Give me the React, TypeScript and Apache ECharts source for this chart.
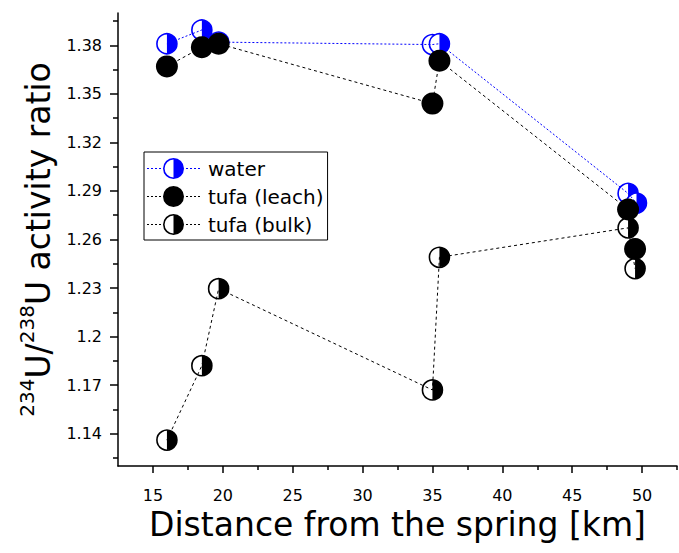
import React, { useEffect, useRef } from "react";
import * as echarts from "echarts";

// ---- data ----
const xTickValues = [15, 20, 25, 30, 35, 40, 45, 50];
const xMinorValues = [17.5, 22.5, 27.5, 32.5, 37.5, 42.5, 47.5, 52.5];
const yTickValues = [1.14, 1.17, 1.2, 1.23, 1.26, 1.29, 1.32, 1.35, 1.38];
const yMinorValues = [1.125, 1.155, 1.185, 1.215, 1.245, 1.275, 1.305, 1.335, 1.365, 1.395];

const waterDist = [16.0, 18.5, 19.7, 35.0, 35.5, 49.0, 49.6];
const waterRatio = [1.381, 1.3895, 1.382, 1.3805, 1.381, 1.2885, 1.2825];

const leachDist = [16.0, 18.5, 19.7, 35.0, 35.5, 49.0, 49.5];
const leachRatio = [1.367, 1.3788, 1.381, 1.344, 1.3705, 1.2786, 1.2541];

const bulkDist = [16.0, 18.5, 19.7, 35.0, 35.5, 49.0, 49.5];
const bulkRatio = [1.136, 1.182, 1.2296, 1.167, 1.249, 1.2672, 1.242];

const seriesNames = ["water", "tufa (leach)", "tufa (bulk)"];

const FONT = "DejaVu Sans";
const BLUE = "#0000ff";
const BLACK = "#000000";

const pairs = (xs: number[], ys: number[]) => xs.map((x, i) => [x, ys[i]]);

// legend icon paths (53 x 21 box)
const dashes =
  "M0,10h2v1h-2zM4,10h2v1h-2zM8,10h2v1h-2zM12,10h2v1h-2z" +
  "M39,10h2v1h-2zM43,10h2v1h-2zM47,10h2v1h-2zM51,10h2v1h-2z";
const outer = "M16,10.5A10.5,10.5 0 1,1 37,10.5A10.5,10.5 0 1,1 16,10.5Z";
const inner = "M17.6,10.5A8.9,8.9 0 1,0 35.4,10.5A8.9,8.9 0 1,0 17.6,10.5Z";
const rightHalf = "M26.5,1.6A8.9,8.9 0 0,1 26.5,19.4Z";
const halfIcon = "path://" + dashes + outer + inner + rightHalf;
const fullIcon = "path://" + dashes + outer;

const halfSeries = (name: string, data: number[][], color: string) => ({
  type: "custom",
  name,
  data,
  encode: { x: 0, y: 1 },
  renderItem: (_params: any, api: any) => {
    const p = api.coord([api.value(0), api.value(1)]);
    return {
      type: "group",
      children: [
        {
          type: "circle",
          shape: { cx: p[0], cy: p[1], r: 10 },
          style: { fill: "#ffffff", stroke: color, lineWidth: 1.6 },
        },
        {
          type: "sector",
          shape: {
            cx: p[0],
            cy: p[1],
            r0: 0,
            r: 10,
            startAngle: -Math.PI / 2,
            endAngle: Math.PI / 2,
            clockwise: true,
          },
          style: { fill: color },
        },
      ],
    };
  },
});

export default function App() {
  const ref = useRef<HTMLDivElement>(null);

  useEffect(() => {
    if (!ref.current) return;
    const chart = echarts.init(ref.current, undefined, { renderer: "svg" });

    const axisFont = { fontFamily: FONT, fontSize: 16, color: BLACK };

    chart.setOption({
      animation: false,
      backgroundColor: "#ffffff",
      grid: { left: 118, right: 2, top: 13, bottom: 87, containLabel: false },
      legend: {
        orient: "vertical",
        left: 144,
        top: 152,
        borderColor: BLACK,
        borderWidth: 1,
        padding: [6, 4, 5, 3],
        itemGap: 7,
        itemWidth: 53,
        itemHeight: 21,
        selectedMode: false,
        textStyle: { fontFamily: FONT, fontSize: 20, color: BLACK, padding: [0, 0, 0, 3] },
        data: [
          { name: seriesNames[0], icon: halfIcon, itemStyle: { color: BLUE, borderWidth: 0 } },
          { name: seriesNames[1], icon: fullIcon, itemStyle: { color: BLACK, borderWidth: 0 } },
          { name: seriesNames[2], icon: halfIcon, itemStyle: { color: BLACK, borderWidth: 0 } },
        ],
      },
      xAxis: [
        {
          type: "value",
          min: 12.5,
          max: 52.5,
          position: "bottom",
          name: "Distance from the spring [km]",
          nameLocation: "middle",
          nameGap: 38,
          nameTextStyle: { fontFamily: FONT, fontSize: 33, color: BLACK },
          axisLine: { show: true, lineStyle: { color: BLACK, width: 1.5 } },
          axisTick: {
            show: true,
            inside: false,
            length: 7,
            customValues: xTickValues,
            lineStyle: { color: BLACK, width: 1.5 },
          },
          axisLabel: { ...axisFont, margin: 21, customValues: xTickValues },
          splitLine: { show: false },
        },
        {
          type: "value",
          min: 12.5,
          max: 52.5,
          position: "bottom",
          axisLine: { show: false },
          axisTick: {
            show: true,
            inside: false,
            length: 4,
            customValues: xMinorValues,
            lineStyle: { color: BLACK, width: 1.5 },
          },
          axisLabel: { show: false },
          splitLine: { show: false },
        },
      ],
      yAxis: [
        {
          type: "value",
          min: 1.12,
          max: 1.4,
          position: "left",
          name: "{sup|234}{main|U/}{sup|238}{main|U activity ratio}",
          nameLocation: "middle",
          nameRotate: 90,
          nameGap: 50,
          nameTextStyle: {
            color: BLACK,
            rich: {
              main: { fontFamily: FONT, fontSize: 33, lineHeight: 44, color: BLACK },
              sup: {
                fontFamily: FONT,
                fontSize: 20,
                lineHeight: 22,
                verticalAlign: "top",
                color: BLACK,
              },
            },
          },
          axisLine: { show: true, lineStyle: { color: BLACK, width: 1.5 } },
          axisTick: {
            show: true,
            inside: false,
            length: 8,
            customValues: yTickValues,
            lineStyle: { color: BLACK, width: 1.5 },
          },
          axisLabel: { ...axisFont, margin: 16, customValues: yTickValues },
          splitLine: { show: false },
        },
        {
          type: "value",
          min: 1.12,
          max: 1.4,
          position: "left",
          axisLine: { show: false },
          axisTick: {
            show: true,
            inside: false,
            length: 5,
            customValues: yMinorValues,
            lineStyle: { color: BLACK, width: 1.5 },
          },
          axisLabel: { show: false },
          splitLine: { show: false },
        },
      ],
      series: [
        {
          type: "line",
          name: seriesNames[0],
          data: pairs(waterDist, waterRatio),
          symbol: "none",
          itemStyle: { color: BLUE },
          lineStyle: { color: BLUE, width: 1, type: [2, 2] },
        },
        halfSeries("water-points", pairs(waterDist, waterRatio), BLUE),
        {
          type: "line",
          name: seriesNames[1],
          data: pairs(leachDist, leachRatio),
          symbol: "circle",
          symbolSize: 22,
          itemStyle: { color: BLACK, borderWidth: 0 },
          lineStyle: { color: BLACK, width: 1, type: [3, 3] },
        },
        {
          type: "line",
          name: seriesNames[2],
          data: pairs(bulkDist, bulkRatio),
          symbol: "none",
          itemStyle: { color: BLACK },
          lineStyle: { color: BLACK, width: 1, type: [3, 3] },
        },
        halfSeries("bulk-points", pairs(bulkDist, bulkRatio), BLACK),
      ],
    });

    return () => chart.dispose();
  }, []);

  return (
    <div
      ref={ref}
      style={{ position: "fixed", left: 0, top: 0, width: 679, height: 553, background: "#fff" }}
    />
  );
}
